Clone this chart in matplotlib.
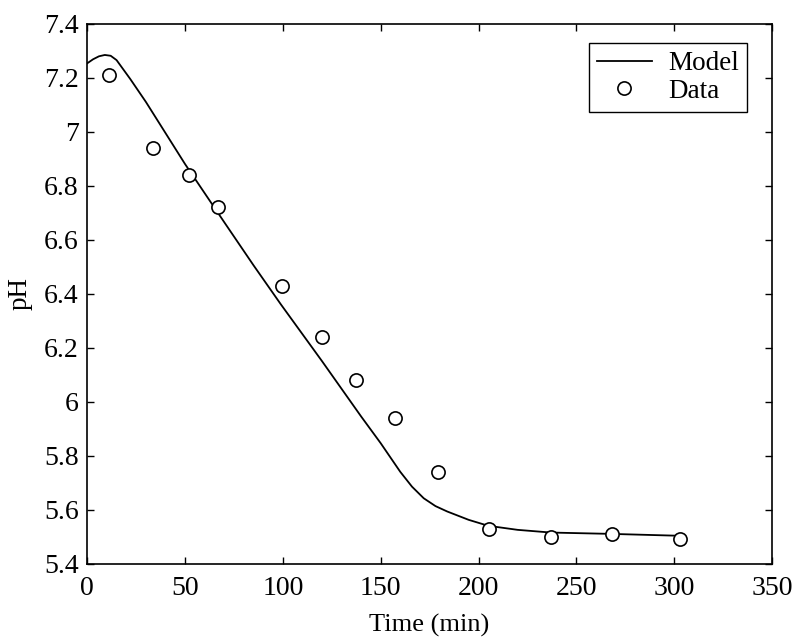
import matplotlib
matplotlib.use('Agg')
from matplotlib import pyplot as plt

# model curve
model_t = [0, 3, 6, 9, 12, 15, 18, 22, 30, 50, 70, 85, 99, 120, 140, 150, 160, 166, 172, 178, 184, 195, 205, 220, 237, 268, 303]
model_ph = [7.253, 7.268, 7.279, 7.284, 7.281, 7.265, 7.235, 7.195, 7.11, 6.88, 6.665, 6.505, 6.36, 6.15, 5.945, 5.846, 5.74, 5.685, 5.642, 5.613, 5.593, 5.562, 5.540, 5.525, 5.515, 5.510, 5.503]

# measured points
data_t = [11.3, 33.5, 51.9, 66.9, 99.5, 120.0, 137.4, 157.2, 179.4, 205.3, 236.8, 268.2, 302.8]
data_ph = [7.21, 6.94, 6.84, 6.72, 6.43, 6.24, 6.08, 5.94, 5.74, 5.53, 5.50, 5.51, 5.49]

xticks = [0, 50, 100, 150, 200, 250, 300, 350]
yticks = [5.4, 5.6, 5.8, 6.0, 6.2, 6.4, 6.6, 6.8, 7.0, 7.2, 7.4]
ylabels = ['5.4', '5.6', '5.8', '6', '6.2', '6.4', '6.6', '6.8', '7', '7.2', '7.4']

plt.rcParams['font.family'] = ['Liberation Serif', 'DejaVu Serif']

fig = plt.figure(figsize=(8, 6.39), dpi=100)
ax = fig.add_axes([0.109, 0.118, 0.856, 0.845])

ax.plot(model_t, model_ph, color='k', lw=1.3, label='Model')
ax.plot(data_t, data_ph, 'o', ms=9.5, mfc='white', mec='k', mew=1.2, label='Data')

ax.set_xlim(0, 350)
ax.set_ylim(5.4, 7.4)
ax.set_xticks(xticks)
ax.set_yticks(yticks)
ax.set_yticklabels(ylabels)
ax.tick_params(direction='in', length=5, width=1, top=True, right=True, labelsize=20)
ax.tick_params(axis='x', pad=9)
ax.tick_params(axis='y', pad=6)
for s in ax.spines.values():
    s.set_linewidth(1.2)

ax.set_xlabel('Time (min)', fontsize=19, labelpad=9)
ax.set_ylabel('pH', fontsize=19.5, labelpad=8)

leg = ax.legend(loc='upper right', bbox_to_anchor=(0.963, 0.964), borderaxespad=0,
                fontsize=19.5, fancybox=False, framealpha=1, edgecolor='k',
                handlelength=2.0, handletextpad=0.6, borderpad=0.3, labelspacing=0.1)
leg.get_frame().set_linewidth(1.0)

fig.savefig('out.png', dpi=100)
